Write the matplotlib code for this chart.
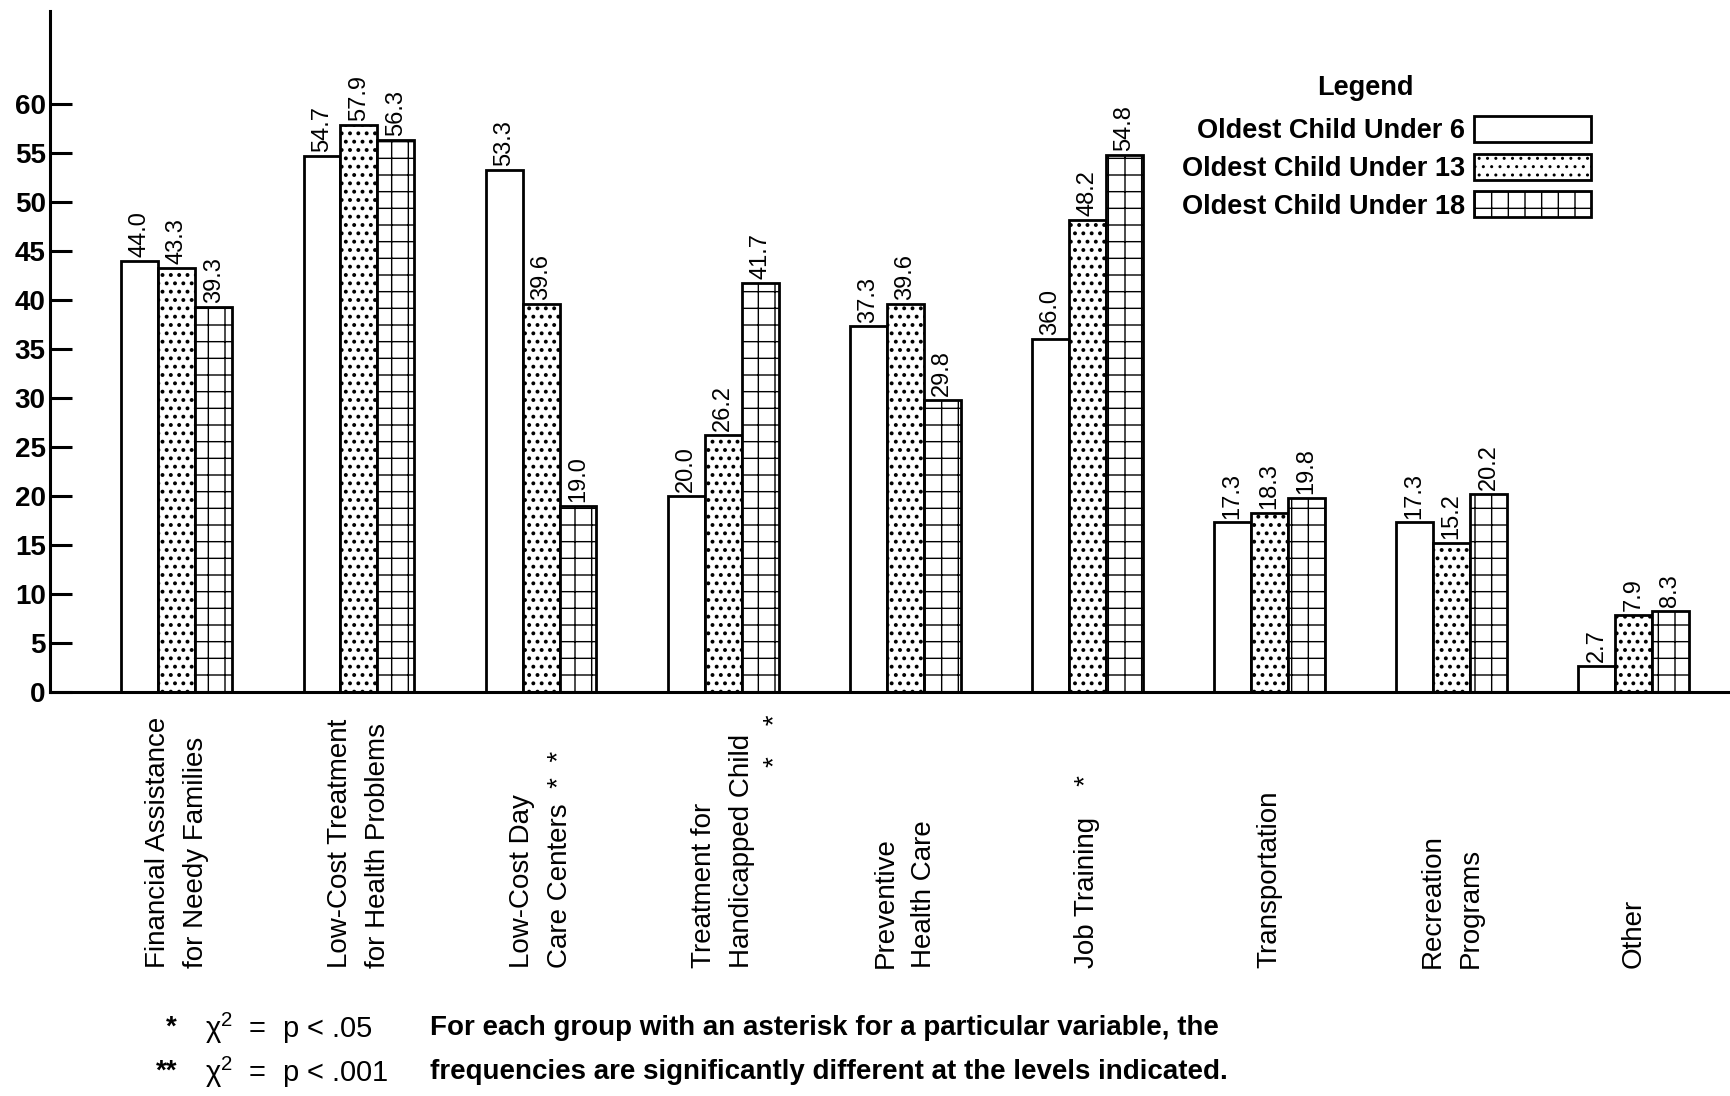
import matplotlib
matplotlib.use("Agg")
import matplotlib.pyplot as plt
import matplotlib.transforms as mtransforms
import numpy as np

# ---------------------------------------------------------------------------
# Data
# ---------------------------------------------------------------------------
categories = [
    "Financial Assistance\nfor Needy Families",
    "Low-Cost Treatment\nfor Health Problems",
    "Low-Cost Day\nCare Centers  *  *",
    "Treatment for\nHandicapped Child",
    "Preventive\nHealth Care",
    "Job Training    *",
    "Transportation",
    "Recreation\nPrograms",
    "Other",
]
under6 = [44.0, 54.7, 53.3, 20.0, 37.3, 36.0, 17.3, 17.3, 2.7]
under13 = [43.3, 57.9, 39.6, 26.2, 39.6, 48.2, 18.3, 15.2, 7.9]
under18 = [39.3, 56.3, 19.0, 41.7, 29.8, 54.8, 19.8, 20.2, 8.3]
series_labels = ["Oldest Child Under 6", "Oldest Child Under 13", "Oldest Child Under 18"]
y_ticks = [0, 5, 10, 15, 20, 25, 30, 35, 40, 45, 50, 55, 60]

# ---------------------------------------------------------------------------
# Style
# ---------------------------------------------------------------------------
plt.rcParams["font.family"] = ["Liberation Sans", "DejaVu Sans"]
plt.rcParams["mathtext.fontset"] = "custom"
plt.rcParams["mathtext.rm"] = "Liberation Sans"
plt.rcParams["mathtext.it"] = "Liberation Sans"
EDGE = "black"
BAR_W = 0.203
LW = 2.0

fig = plt.figure(figsize=(17.3, 10.96), dpi=100)
ax = fig.add_axes([0.0289, 0.3686, 0.9711, 0.6214])

x = np.arange(len(categories))
b1 = ax.bar(x - BAR_W, under6, BAR_W, color="white", edgecolor=EDGE, linewidth=LW)
plt.rcParams["hatch.linewidth"] = 1.6
b2 = ax.bar(x, under13, BAR_W, color="white", edgecolor=EDGE, linewidth=LW, hatch="..")
plt.rcParams["hatch.linewidth"] = 1.0
b3 = ax.bar(x + BAR_W, under18, BAR_W, color="white", edgecolor=EDGE, linewidth=LW, hatch="+")

for bars, vals in ((b1, under6), (b2, under13), (b3, under18)):
    for bar, v in zip(bars, vals):
        ax.text(bar.get_x() + bar.get_width() / 2, v + 0.4, f"{v:.1f}",
                rotation=90, ha="center", va="bottom", fontsize=17)

ax.set_xlim(-0.697, 8.53)
ax.set_ylim(0, 69.5)
ax.set_yticks(y_ticks)
ax.set_yticklabels([str(t) for t in y_ticks], fontsize=20, fontweight="bold")
ax.tick_params(axis="y", direction="in", length=16, width=2.2, pad=3)
ax.set_xticks([])
ax.spines[["top", "right"]].set_visible(False)
ax.spines["left"].set_linewidth(2.2)
ax.spines["bottom"].set_linewidth(2.2)

# category labels, bottom-aligned below the axis
trans = mtransforms.blended_transform_factory(ax.transData, ax.transAxes)
for xi, lab in zip(x, categories):
    ax.text(xi, -0.405, lab, transform=trans, rotation=90, ha="center", va="bottom",
            multialignment="left", fontsize=20, linespacing=1.6)
ax.text(3 + 0.29, -0.033, "*    *", transform=trans, rotation=90, ha="center", va="top",
        fontsize=20)

# legend
fig.text(1365 / 1730, 1 - 88 / 1096, "Legend", ha="center", va="center",
         fontsize=19.5, fontweight="bold")
leg = ax.legend([b1, b2, b3], series_labels, frameon=False,
                loc="upper left", bbox_to_anchor=(0.683, 1 - 116 / 1096),
                bbox_transform=fig.transFigure,
                markerfirst=False, handlelength=4.3, handleheight=1.1, handletextpad=0.35,
                labelspacing=0.35, borderpad=0, borderaxespad=0,
                prop={"size": 19.5, "weight": "bold"})

# footnote
fig.text(177 / 1730, 1 - 1028 / 1096, "*", ha="right", va="center", fontsize=20, fontweight="bold")
fig.text(177 / 1730, 1 - 1072 / 1096, "**", ha="right", va="center", fontsize=20, fontweight="bold")
fig.text(205 / 1730, 1 - 1028 / 1096, r"χ$^2$  =  p < .05", ha="left", va="center",
         fontsize=21)
fig.text(205 / 1730, 1 - 1072 / 1096, r"χ$^2$  =  p < .001", ha="left", va="center",
         fontsize=21)
fig.text(430 / 1730, 1 - 1028 / 1096,
         "For each group with an asterisk for a particular variable, the",
         ha="left", va="center", fontsize=20, fontweight="bold")
fig.text(430 / 1730, 1 - 1072 / 1096,
         "frequencies are significantly different at the levels indicated.",
         ha="left", va="center", fontsize=20, fontweight="bold")

fig.savefig("out.png", dpi=100)
